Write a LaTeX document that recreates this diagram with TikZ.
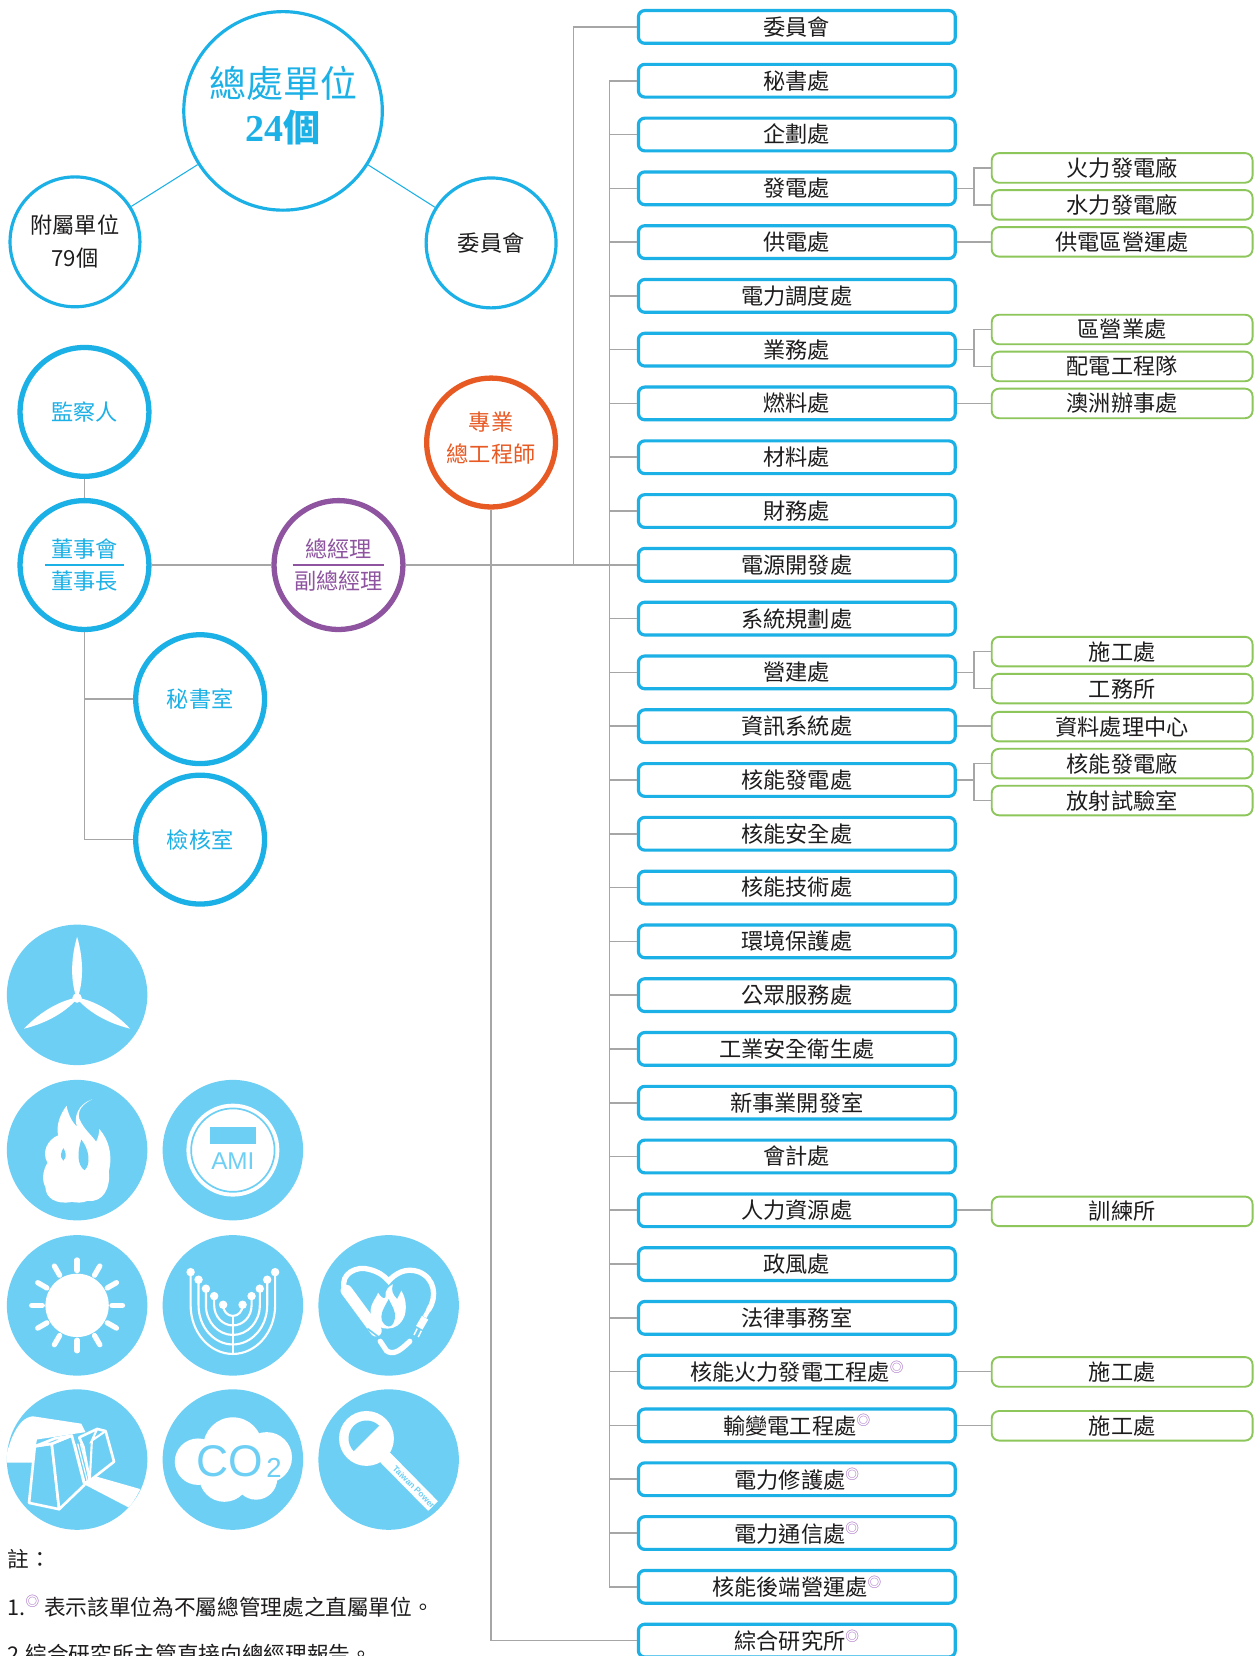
\documentclass[tikz,border=0pt]{standalone}
\usepackage{fontspec}
\setmainfont{Noto Sans CJK TC}
\newfontfamily\latinserif{Liberation Serif}
\newfontfamily\latinsans{Liberation Sans}
\usetikzlibrary{calc}

\definecolor{tpblue}{RGB}{27,176,230}
\definecolor{tppurple}{RGB}{142,84,160}
\definecolor{tporange}{RGB}{232,90,36}
\definecolor{tpgreen}{RGB}{141,198,90}
\definecolor{tpgray}{RGB}{166,166,166}
\definecolor{iconblue}{RGB}{110,207,245}
\definecolor{markpurple}{RGB}{158,96,190}
\definecolor{txt}{RGB}{30,28,28}

% small raised double-circle mark for units outside the head office
\newcommand{\unitmark}{\textcolor{markpurple}{\raisebox{8pt}{\fontsize{13}{13}\selectfont ◎}}}

\begin{document}
\begin{tikzpicture}[x=1pt,y=-1pt,
  unitbox/.style={draw=tpblue, line width=3pt, rounded corners=6pt,
    minimum width=300pt, minimum height=31pt, inner sep=0pt,
    font=\fontsize{21}{25}\selectfont, text=txt},
  subbox/.style={draw=tpgreen, line width=1.8pt, rounded corners=7pt,
    minimum width=247pt, minimum height=28pt, inner sep=0pt,
    font=\fontsize{21}{25}\selectfont, text=txt},
  link/.style={draw=tpgray, line width=1.5pt},
  thinring/.style={circle, draw=tpblue, line width=3pt, inner sep=0pt,
    align=center, font=\fontsize{21}{31}\selectfont, text=txt},
  ring/.style={circle, line width=5pt, minimum size=122pt, inner sep=0pt,
    align=center, font=\fontsize{21}{30}\selectfont},
  ringtext/.style={inner sep=0pt, align=center, font=\fontsize{21}{30}\selectfont},
  notetext/.style={anchor=west, inner sep=0pt, text=txt,
    font=\fontsize{20.5}{24}\selectfont}
]
\useasboundingbox (0,0) rectangle (1191,1568);
\fill[white] (0,0) rectangle (1191,1568);
\clip (0,0) rectangle (1191,1568);

% ---------- top group ----------
\node[thinring, minimum size=188pt] (zc) at (268,105) {};
\node[text=tpblue, align=center, inner sep=0pt,
      font=\fontsize{35}{42}\selectfont] (zct) at (268,100)
      {總處單位\\{\latinserif\bfseries\fontsize{36}{42}\selectfont 24}{\bfseries 個}};
\node[thinring, minimum size=123pt] (fs) at (71,229) {附屬單位\\79個};
\node[thinring, minimum size=123pt] (wy) at (465,230) {委員會};
\draw[tpblue, line width=1pt] (zc) -- (fs);
\draw[tpblue, line width=1pt] (zc) -- (wy);

% ---------- governance circles ----------
\node[ring, draw=tpblue, text=tpblue] (jcr) at (80,390) {監察人};
\node[ring, draw=tpblue, text=tpblue] (dsh) at (80,535) {董事會\\董事長};
\node[ring, draw=tppurple, text=tppurple] (gm) at (320.5,535) {總經理\\副總經理};
\node[ring, draw=tporange] (zy) at (465,419) {};
\node[ringtext, text=tporange] (zyt) at (465,415) {專業\\總工程師};
\node[ring, draw=tpblue, text=tpblue] (mss) at (189.5,662) {秘書室};
\node[ring, draw=tpblue, text=tpblue] (jhs) at (189.5,795) {檢核室};
\draw[tpblue, line width=1.5pt] ([xshift=-37pt]dsh.center) -- ([xshift=37pt]dsh.center);
\draw[tppurple, line width=1.5pt] ([xshift=-43.5pt]gm.center) -- ([xshift=43.5pt]gm.center);

% ---------- departments ----------
\foreach \t [count=\i] in {委員會,秘書處,企劃處,發電處,供電處,電力調度處,業務處,燃料處,
  材料處,財務處,電源開發處,系統規劃處,營建處,資訊系統處,核能發電處,核能安全處,
  核能技術處,環境保護處,公眾服務處,工業安全衛生處,新事業開發室,會計處,人力資源處,
  政風處,法律事務室,核能火力發電工程處\unitmark,輸變電工程處\unitmark,
  電力修護處\unitmark,電力通信處\unitmark,核能後端營運處\unitmark,綜合研究所\unitmark}
  \node[unitbox] (b\i) at (754.5,{25.5+(\i-1)*50.93}) {\t};

% ---------- subordinate units ----------
\node[subbox] (g4a)  at (1062.5,159)  {火力發電廠};
\node[subbox] (g4b)  at (1062.5,194)  {水力發電廠};
\node[subbox] (g5)   at (1062.5,229)  {供電區營運處};
\node[subbox] (g7a)  at (1062.5,312)  {區營業處};
\node[subbox] (g7b)  at (1062.5,347)  {配電工程隊};
\node[subbox] (g8)   at (1062.5,382)  {澳洲辦事處};
\node[subbox] (g13a) at (1062.5,617)  {施工處};
\node[subbox] (g13b) at (1062.5,652)  {工務所};
\node[subbox] (g14)  at (1062.5,688)  {資料處理中心};
\node[subbox] (g15a) at (1062.5,723)  {核能發電廠};
\node[subbox] (g15b) at (1062.5,758)  {放射試驗室};
\node[subbox] (g23)  at (1062.5,1147) {訓練所};
\node[subbox] (g26)  at (1062.5,1299) {施工處};
\node[subbox] (g27)  at (1062.5,1350) {施工處};

% ---------- connectors ----------
\coordinate (spineA) at (543,535);
\coordinate (spineB) at (577,535);
\coordinate (brk) at (922.5,0);

\draw[link] (jcr) -- (dsh);
\draw[link] (dsh) -- (gm);
\draw[link] (gm.east) -- (gm.east -| b11.west);
\draw[link] (zy.south) |- (b31.west);
\draw[link] (b1.west) -| (spineA);
\draw[link] (b2.west -| spineB) -- (b30.west -| spineB);
\foreach \i in {2,...,30}
  \draw[link] (b\i.west) -- (b\i.west -| spineB);
\draw[link] (dsh.south) |- (mss.west);
\draw[link] (dsh.south) |- (jhs.west);

% single sub-units
\foreach \b/\g in {5/g5,8/g8,14/g14,23/g23,26/g26,27/g27}
  \draw[link] (b\b.east) -- (b\b.east -| \g.west);
% paired sub-units
\foreach \b/\ga/\gb in {4/g4a/g4b,7/g7a/g7b,13/g13a/g13b,15/g15a/g15b}{
  \draw[link] (b\b.east) -- (b\b.east -| brk);
  \draw[link] (\ga.west) -- (\ga.west -| brk) -- (\gb.west -| brk) -- (\gb.west);
}

% ---------- icons ----------
% wind turbine
\begin{scope}[shift={(73,945)}, y=1pt]
  \fill[iconblue] (0,3) circle (66.5pt);
  \foreach \a in {0,120,240}
    \fill[white, rotate=\a] (0,-1) .. controls (6,14) and (6.5,36) .. (0,58)
      .. controls (-6.5,36) and (-6,14) .. (0,-1) -- cycle;
  \fill[white] (0,0) circle (4.5pt);
\end{scope}

% flame
\begin{scope}[shift={(73,1089)}, y=1pt]
  \fill[iconblue] (0,0) circle (66.5pt);
  \fill[white] (-5,-49) .. controls (-20,-52) and (-30,-45) .. (-30,-35)
    .. controls (-34,-28) and (-32,-18) .. (-28,-12)
    .. controls (-34,-2) and (-28,10) .. (-18,14)
    .. controls (-20,24) and (-16,34) .. (-10,42)
    .. controls (-8,32) and (-4,26) .. (0,22)
    .. controls (-4,32) and (2,44) .. (14,48)
    .. controls (6,44) and (0,38) .. (2,30)
    .. controls (6,20) and (14,14) .. (18,8)
    .. controls (20,12) and (21,16) .. (21,20)
    .. controls (30,10) and (34,-5) .. (30,-20)
    .. controls (32,-35) and (25,-50) .. (10,-48)
    .. controls (5,-50) and (0,-50) .. (-5,-49) -- cycle;
  \fill[iconblue] (-13,-10) .. controls (-17,-6) and (-15,-2) .. (-13,2)
    .. controls (-11,-2) and (-9,-6) .. (-13,-10) -- cycle;
  \fill[iconblue] (7,-19) .. controls (0,-14) and (0,-2) .. (4,10)
    .. controls (12,0) and (13,-14) .. (7,-19) -- cycle;
\end{scope}

% smart meter
\begin{scope}[shift={(220.5,1089)}, y=1pt]
  \fill[iconblue] (0,0) circle (66.5pt);
  \fill[white] (0,0) circle (44pt);
  \draw[iconblue, line width=1.6pt] (0,0) circle (39.5pt);
  \fill[iconblue] (-22,6) rectangle (22,22);
  \node[text=iconblue, inner sep=0pt, font=\latinsans\fontsize{23}{23}\selectfont] (ami) at (0,-10) {AMI};
\end{scope}

% sun
\begin{scope}[shift={(73,1236)}, y=1pt]
  \fill[iconblue] (0,0) circle (66.5pt);
  \fill[white] (0,0) circle (30pt);
  \foreach \a in {0,30,...,330}
    \draw[white, line width=5pt, line cap=round] (\a:33pt) -- (\a:43pt);
\end{scope}

% grid arcs
\begin{scope}[shift={(220.5,1236)}, y=1pt]
  \fill[iconblue] (0,0) circle (66.5pt);
  \foreach \w/\t/\h in {40/31.5/46,32.5/24.3/37,25.5/15.8/28,17.7/8.8/19,9.2/0.6/10}{
    \draw[white, line width=2pt] (-\w,\t) -- (-\w,0)
      arc[start angle=180, end angle=360, x radius=\w pt, y radius=\h pt] -- (\w,\t);
    \fill[white] (-\w,\t) circle (4pt) (\w,\t) circle (4pt);
  }
  \draw[white, line width=2pt] (0,-10) -- (0,-46);
\end{scope}

% heart with flame and plug
\begin{scope}[shift={(368,1236)}, y=1pt]
  \fill[iconblue] (0,0) circle (66.5pt);
  \draw[white, line width=11pt, line cap=round] (-40,14) -- (-12,-24);
  \draw[white, line width=5pt, line cap=round]
    (-42,16) .. controls (-46,30) and (-30,38) .. (-18,34)
    .. controls (-10,32) and (-4,28) .. (0,23)
    .. controls (6,30) and (16,36) .. (28,32)
    .. controls (44,26) and (46,8) .. (38,-4);
  \draw[white, line width=5pt, line cap=round]
    (-8,-34) -- (-2,-43) .. controls (4,-47) and (10,-44) .. (20,-34);
  \draw[iconblue, line width=1.5pt] (-20,-22) -- (-8,-31);
  \draw[white, line width=4pt] (38,-4) -- (34,-11);
  \fill[white, rotate around={-30:(32,-16)}] (28.5,-22) rectangle (35.5,-11);
  \draw[white, line width=1.4pt] (27,-22) -- (24,-28) (31,-24) -- (28,-30);
  \fill[white] (-1,-22) .. controls (-12,-22) and (-18,-14) .. (-17,-4)
    .. controls (-16,4) and (-11,8) .. (-10,12)
    .. controls (-6,6) and (-4,6) .. (-3,8)
    .. controls (-4,14) and (0,18) .. (4,20)
    .. controls (2,14) and (4,10) .. (8,6)
    .. controls (10,10) and (11,12) .. (12,14)
    .. controls (17,6) and (17,-4) .. (15,-10)
    .. controls (12,-18) and (6,-22) .. (-1,-22) -- cycle;
  \fill[iconblue] (0,-20) .. controls (-7,-18) and (-8,-12) .. (-6,-6)
    .. controls (-4,-1) and (-2,2) .. (0,6)
    .. controls (3,0) and (7,-6) .. (6,-12)
    .. controls (5,-17) and (3,-20) .. (0,-20) -- cycle;
\end{scope}

% transformer blocks
\begin{scope}[shift={(73,1382)}, y=1pt]
  \fill[iconblue] (0,0) circle (66.5pt);
  \begin{scope}
    \clip (0,0) circle (66.5pt);
    \fill[white] (-70,-3) -- (-62,20) .. controls (-56,34) and (-50,40) .. (-42,41)
      -- (4,34) -- (8,26) -- (-38,19) -- (-42,-3) -- cycle;
    \fill[white] (4,-22) -- (18,-16) -- (60,-28) -- (50,-46) -- cycle;
  \end{scope}
  \filldraw[white, fill=iconblue, line width=2.5pt, line join=round]
    (-45.5,-41) -- (-40,12.6) -- (-24,15) -- (-17,-47) -- cycle;
  \filldraw[white, fill=iconblue, line width=2.5pt, line join=round]
    (-24,15) -- (-5,22.7) -- (7,-24) -- (-17,-47) -- cycle;
  \filldraw[white, fill=iconblue, line width=2.5pt, line join=round]
    (-40,12.6) -- (-21,20) -- (-5,22.7) -- (-24,15) -- cycle;
  \foreach \k in {0,1,2,3}
    \draw[white, line width=1.2pt] ({-2+2.6*\k},15) -- ({7+2.6*\k},-20);
  \filldraw[white, fill=iconblue, line width=2.5pt, line join=round]
    (2,21) -- (19,29) -- (27,27) -- (35,-2) -- (12,-20) -- (6,12) -- cycle;
  \draw[white, line width=2pt] (6,12) -- (2,21) (19,29) -- (14,18) -- (27,27) (14,18) -- (12,-20);
\end{scope}

% carbon dioxide cloud
\begin{scope}[shift={(220.5,1382)}, y=1pt]
  \fill[iconblue] (0,0) circle (66.5pt);
  \fill[white] (-33,-2) circle (22pt) (0,12) circle (28pt) (32,2) circle (24pt)
    (-8,-16) circle (24pt) (22,-18) circle (20pt);
  \node[text=iconblue, inner sep=0pt, font=\latinsans\fontsize{42}{42}\selectfont] (co) at (-3,-2) {CO};
  \node[text=iconblue, inner sep=0pt, font=\latinsans\fontsize{26}{26}\selectfont] (two) at (39,-8) {2};
\end{scope}

% magnifier
\begin{scope}[shift={(368,1382)}, y=1pt]
  \fill[iconblue] (0,0) circle (66.5pt);
  \draw[white, line width=13pt] (-21,20) -- (42,-44);
  \fill[white] (-21,20) circle (26pt);
  \fill[iconblue] (-21,20) ++(45:17pt) arc[start angle=45, end angle=225, radius=17pt] -- cycle;
  \node[text=iconblue, inner sep=0pt, rotate=-45,
        font=\latinsans\bfseries\fontsize{8}{8}\selectfont] (tpw) at (24,-26) {Taiwan Power};
\end{scope}

% ---------- notes ----------
\node[notetext] (n0) at (7,1476) {註：};
\node[notetext] (n1) at (7,1521) {1.\unitmark\ 表示該單位為不屬總管理處之直屬單位。};
\node[notetext] (n2) at (7,1566) {2.綜合研究所主管直接向總經理報告。};
\end{tikzpicture}
\end{document}
